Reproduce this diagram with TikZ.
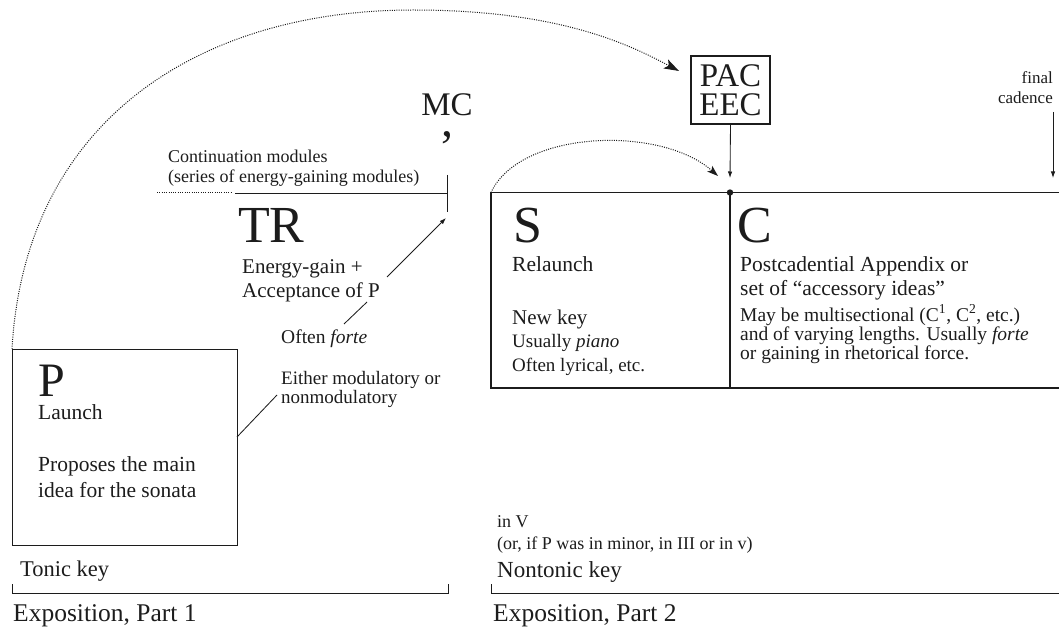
\documentclass[tikz,border=0pt]{standalone}
\usepackage{fontspec}
\setmainfont{Liberation Serif}
\usetikzlibrary{arrows.meta}
\definecolor{ink}{HTML}{1C1C1C}
\newcommand\fsz[1]{\fontsize{#1}{#1}\selectfont}
\begin{document}
\begin{tikzpicture}[x=1pt,y=-1pt,
  txt/.style={anchor=base west, inner sep=0pt, text=ink},
  txtr/.style={anchor=base east, inner sep=0pt, text=ink},
  txtc/.style={anchor=base, inner sep=0pt, text=ink},
  ln/.style={draw=ink, line width=1.1pt},
  thin/.style={draw=ink, line width=0.85pt},
  dots/.style={draw=ink, line width=1pt, dash pattern=on 1pt off 1.3pt},
  bigtip/.style={-{Stealth[length=15pt,width=10pt,inset=3.5pt]}},
  midtip/.style={-{Stealth[length=11pt,width=7.5pt,inset=2.5pt]}},
  smalltip/.style={-{Latex[length=6.5pt,width=4.5pt]}},
]
\useasboundingbox (0,0) rectangle (1059,628);

% ---------- P box ----------
\node[ln, minimum width=225pt, minimum height=196pt, anchor=north west, inner sep=0pt] (Pbox) at (12,349) {};
\node[txt, font=\fsz{48}] (Pl) at (38,396) {P};
\node[txt, font=\fsz{21.5}] (launch) at (38,419) {Launch};
\node[txt, font=\fsz{21.5}] (prop1) at (38,471) {Proposes the main};
\node[txt, font=\fsz{21.5}] (prop2) at (38,497) {idea for the sonata};

\node[txt, font=\fsz{19}] (eith1) at (281,384) {Either modulatory or};
\node[txt, font=\fsz{19}] (eith2) at (281,403) {nonmodulatory};
\coordinate (Pright) at (237,437);
\coordinate (eithend) at (277,395);
\draw[thin] (Pright) -- (eithend);

% ---------- TR ----------
\node[txt, font=\fsz{18}] (cont1) at (168,163) {Continuation modules};
\node[txt, font=\fsz{18}] (cont2) at (168,183) {(series of energy-gaining modules)};
\coordinate (dotstart) at (157,193);
\coordinate (dotend) at (232,193);
\coordinate (solstart) at (235,193);
\coordinate (mcx) at (447,193);
\coordinate (ticktop) at (447,175);
\coordinate (tickbot) at (447,212);
\draw[dots] (dotstart) -- (dotend);
\draw[thin] (solstart) -- (mcx);
\draw[thin] (ticktop) -- (tickbot);

\node[txt, font=\fsz{52}] (TR) at (238,243) {TR};
\node[txt, font=\fsz{21}] (eg1) at (242,273) {Energy-gain +};
\node[txt, font=\fsz{21}] (eg2) at (242,297) {Acceptance of P};
\node[txt, font=\fsz{19.5}] (oftf) at (281,343) {Often \textit{forte}};
\coordinate (a1) at (344,324);
\coordinate (a2) at (367,302);
\coordinate (a3) at (387,277);
\coordinate (a4) at (446,218);
\draw[thin] (a1) -- (a2);
\draw[thin, smalltip] (a3) -- (a4);

% ---------- MC with breath mark ----------
\node[anchor=north, inner sep=0pt, text=ink, align=center,
      font=\fontsize{33}{21}\selectfont] (MC) at (447,93.2)
      {MC\\{\fontsize{48}{21}\selectfont ,}};

% ---------- S / C box ----------
\coordinate (Snw) at (491,192.5);
\coordinate (Ssw) at (491,388);
\coordinate (Cn) at (730,192.5);
\coordinate (Cs) at (730,388);
\coordinate (Rne) at (1059,192.5);
\coordinate (Rse) at (1059,388);
\draw[ln] (Rne) -- (Snw) -- (Ssw) -- (Rse);
\draw[ln] (Cn) -- (Cs);
\fill[ink] (Cn) circle (3.2pt);

\node[txt, font=\fsz{52}] (S) at (513,243) {S};
\node[txt, font=\fsz{21.5}] (rel) at (512,271) {Relaunch};
\node[txt, font=\fsz{21}] (nk) at (512,324) {New key};
\node[txt, font=\fsz{19}] (up) at (512,347) {Usually \textit{piano}};
\node[txt, font=\fsz{19}] (ol) at (512,371) {Often lyrical, etc.};

\node[txt, font=\fsz{52}] (C) at (737,243) {C};
\node[txt, font=\fsz{21.5}] (pc1) at (740,271) {Postcadential Appendix or};
\node[txt, font=\fsz{21.5}] (pc2) at (740,295) {set of “accessory ideas”};
\node[txt, font=\fsz{19.5}] (pc3) at (740,321) {May be multisectional (C\textsuperscript{1}, C\textsuperscript{2}, etc.)};
\node[txt, font=\fsz{19.5}] (pc4) at (740,340) {and of varying lengths. Usually \textit{forte}};
\node[txt, font=\fsz{19.5}] (pc5) at (740,359) {or gaining in rhetorical force.};

% ---------- PAC EEC ----------
\node[ln, minimum width=79pt, minimum height=68pt, inner sep=0pt, text=ink,
      align=center, font=\fontsize{33}{29}\selectfont] (PAC) at (730.5,90) {PAC\\EEC};
\coordinate (pacend) at (730,178);
\draw[thin, smalltip] (PAC.south) -- (pacend);

% ---------- final cadence ----------
\node[txtr, font=\fsz{17}] (fin1) at (1053,84) {final};
\node[txtr, font=\fsz{17}] (fin2) at (1053,104) {cadence};
\coordinate (fcs) at (1053,112);
\coordinate (fce) at (1053,178);
\draw[thin, smalltip] (fcs) -- (fce);

% ---------- dotted arcs ----------
\coordinate (peak) at (413,10);
\coordinate (bigend) at (679,71);
\draw[dots, bigtip] (Pbox.north west) .. controls (25,120) and (200,10) .. (peak)
   .. controls (560,10) and (630,45) .. (bigend);
\coordinate (smallend) at (718,176);
\draw[dots, midtip] (Snw) .. controls (520,130) and (660,125) .. (smallend);

% ---------- keys and brackets ----------
\node[txt, font=\fsz{22.5}] (tonic) at (20,576) {Tonic key};
\coordinate (b1a) at (12,584);
\coordinate (b1b) at (12,593);
\coordinate (b1c) at (448,593);
\coordinate (b1d) at (448,584);
\draw[thin] (b1a) -- (b1b) -- (b1c) -- (b1d);
\node[txt, font=\fsz{25.5}] (exp1) at (13,621) {Exposition, Part 1};

\node[txt, font=\fsz{18}] (inv) at (497,527) {in V};
\node[txt, font=\fsz{18}] (orif) at (497,549) {(or, if P was in minor, in III or in v)};
\node[txt, font=\fsz{23}] (nontonic) at (497,577) {Nontonic key};
\coordinate (b2a) at (491,584);
\coordinate (b2b) at (491,593);
\coordinate (b2c) at (1059,593);
\draw[thin] (b2a) -- (b2b) -- (b2c);
\node[txt, font=\fsz{25.5}] (exp2) at (493,621) {Exposition, Part 2};
\end{tikzpicture}
\end{document}
